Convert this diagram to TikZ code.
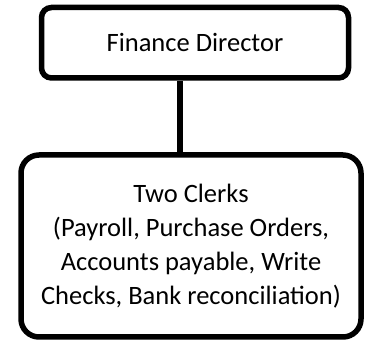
\documentclass[tikz,border=0pt]{standalone}
\usepackage{fontspec}
\setmainfont{Carlito}
\usepackage{tikz}
\usetikzlibrary{positioning}

\begin{document}
\begin{tikzpicture}[
  x=1pt, y=-1pt,
  role/.style={draw=black, line width=5.5pt, fill=white, align=center,
    inner sep=0pt, font=\fontsize{26.5}{34}\selectfont},
  link/.style={line width=5.5pt, black}
]
\useasboundingbox (0,0) rectangle (365,345);
\node[role, rounded corners=10pt, minimum width=307pt, minimum height=70.5pt]
  (director) at (195,42.75) {Finance Director};
\node[role, rounded corners=18pt, minimum width=340pt, minimum height=182pt]
  (clerks) at (191,246) {Two Clerks\\(Payroll, Purchase Orders,\\Accounts payable, Write\\Checks, Bank reconciliation)};
\draw[link] ([xshift=-15pt]director.south) -- ([xshift=-11pt]clerks.north);
\end{tikzpicture}
\end{document}
